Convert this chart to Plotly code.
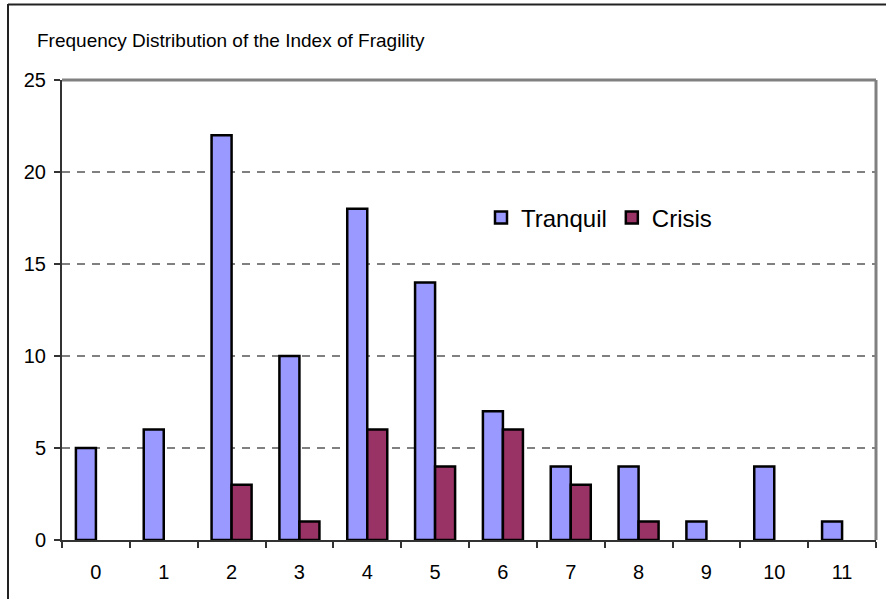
import plotly.graph_objects as go

categories = ["0", "1", "2", "3", "4", "5", "6", "7", "8", "9", "10", "11"]
tranquil = [5, 6, 22, 10, 18, 14, 7, 4, 4, 1, 4, 1]
crisis = [0, 0, 3, 1, 6, 4, 6, 3, 1, 0, 0, 0]
y_ticks = [0, 5, 10, 15, 20, 25]
title_text = "Frequency Distribution of the Index of Fragility"

W, H = 887, 599
ML, MR, MT, MB = 62, 11, 80, 59
PW, PH = W - ML - MR, H - MT - MB

def px_x(p):
    return (p - ML) / PW

def px_y(p):
    return (H - MB - p) / PH

def hide_zero(vals):
    return [v if v != 0 else None for v in vals]

FONT = "Arial, Liberation Sans, sans-serif"
AXIS = "#333333"

fig = go.Figure()
fig.add_trace(go.Bar(x=categories, y=hide_zero(tranquil), name="Tranquil",
                     marker=dict(color="#9999FF", line=dict(color="black", width=2.5))))
fig.add_trace(go.Bar(x=categories, y=hide_zero(crisis), name="Crisis",
                     marker=dict(color="#993366", line=dict(color="black", width=2.5))))

fig.update_layout(
    width=W, height=H,
    margin=dict(l=ML, r=MR, t=MT, b=MB),
    paper_bgcolor="white", plot_bgcolor="white",
    barmode="group", bargap=0.41, bargroupgap=0,
    font=dict(family=FONT, color="black", size=20),
    showlegend=True,
    legend=dict(x=px_x(481), y=px_y(218), xanchor="left", yanchor="middle",
                orientation="h", font=dict(size=24, family=FONT),
                bgcolor="rgba(0,0,0,0)", itemwidth=30, tracegroupgap=0),
)
fig.update_xaxes(type="category", showline=True, linecolor=AXIS, linewidth=2,
                 ticks="outside", tickson="boundaries", ticklen=6, tickwidth=1.5,
                 tickcolor=AXIS, showgrid=False, ticklabelstandoff=13,
                 tickfont=dict(size=20))
fig.update_yaxes(range=[0, 25], tickvals=y_ticks, showline=True, linecolor=AXIS,
                 linewidth=2, ticks="outside", ticklen=6, tickwidth=1.5, tickcolor=AXIS,
                 showgrid=True, gridcolor="#808080", griddash="8px,7px", gridwidth=1.5,
                 zeroline=False, ticklabelstandoff=4, tickfont=dict(size=20))

# plot-area border (top and right, gray)
fig.add_shape(type="line", xref="paper", yref="paper", x0=0, x1=1, y0=1, y1=1,
              line=dict(color="#808080", width=3))
fig.add_shape(type="line", xref="paper", yref="paper", x0=1, x1=1, y0=0, y1=1,
              line=dict(color="#808080", width=3))
# outer frame (left and top)
fig.add_shape(type="line", xref="paper", yref="paper", x0=px_x(8), x1=px_x(8),
              y0=px_y(4), y1=px_y(620), line=dict(color="#222222", width=2))
fig.add_shape(type="line", xref="paper", yref="paper", x0=px_x(8), x1=px_x(886),
              y0=px_y(4.5), y1=px_y(4.5), line=dict(color="#222222", width=2))

fig.add_annotation(text=title_text, xref="paper", yref="paper", x=px_x(35), y=px_y(40),
                   xanchor="left", yanchor="middle", showarrow=False,
                   font=dict(size=19, family=FONT, color="black"))

fig.write_html("out.html", config={"displayModeBar": False},
               post_script="document.body.style.margin='0';")
